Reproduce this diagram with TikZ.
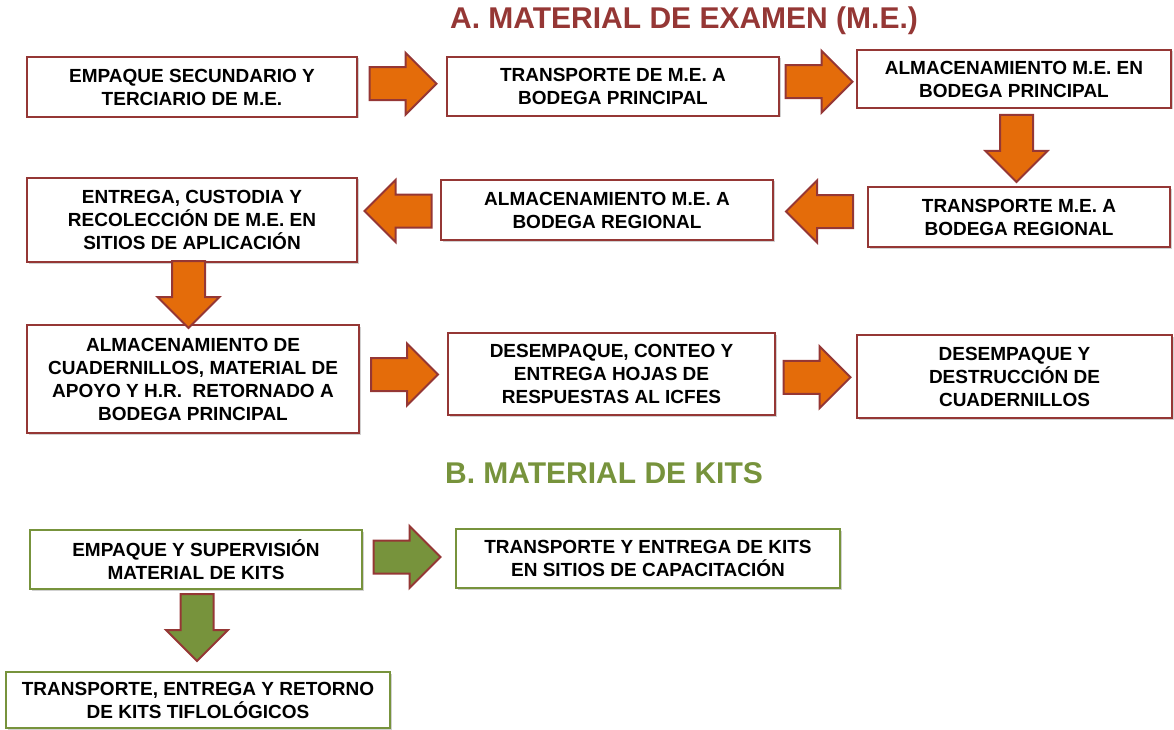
\documentclass[tikz,border=0pt]{standalone}
\usepackage{fontspec}
\setmainfont{Liberation Sans}
\usepackage{tikz}
\usetikzlibrary{shapes.arrows,calc,shadows}

\definecolor{mered}{RGB}{149,55,53}
\definecolor{meorange}{RGB}{228,108,10}
\definecolor{kitgreen}{RGB}{119,147,60}

\tikzset{
  mebox/.style={draw=mered, line width=2.5pt, fill=white, inner sep=0pt, align=center,
    font=\bfseries\fontsize{19}{23}\selectfont,
    drop shadow={shadow xshift=1.5pt, shadow yshift=-1.5pt, fill=black!30, opacity=0.6}},
  kitbox/.style={mebox, draw=kitgreen},
  blockarrow/.style={single arrow, draw=mered, line width=2pt, inner sep=15.5pt,
    minimum height=67pt, minimum width=60pt, single arrow head extend=14.5pt,
    single arrow head indent=0pt, anchor=tail},
  toright/.style={shape border rotate=0},
  toleft/.style={shape border rotate=180},
  todown/.style={shape border rotate=270},
  mearrow/.style={blockarrow, fill=meorange},
  kitarrow/.style={blockarrow, fill=kitgreen},
  heading/.style={font=\bfseries\fontsize{30}{34}\selectfont}
}

\begin{document}
\begin{tikzpicture}[x=1pt,y=1pt,yscale=-1,xscale=1]
\useasboundingbox (0,0) rectangle (1174,730);

% Text Node
\node[heading, text=mered] (titleA) at (684,21) {A. MATERIAL DE EXAMEN (M.E.)};

%Shape: Boxes, row 1
\node[mebox, minimum width=330pt, minimum height=60pt] (A1) at (192,87) {EMPAQUE SECUNDARIO Y\\TERCIARIO DE M.E.};
\node[mebox, minimum width=332pt, minimum height=59pt] (A2) at (613,86.5) {TRANSPORTE DE M.E. A\\BODEGA PRINCIPAL};
\node[mebox, minimum width=314pt, minimum height=58pt] (A3) at (1014,79) {ALMACENAMIENTO M.E. EN\\BODEGA PRINCIPAL};
%Shape: Boxes, row 2
\node[mebox, minimum width=302pt, minimum height=60pt] (A4) at (1019,217) {TRANSPORTE M.E. A\\BODEGA REGIONAL};
\node[mebox, minimum width=332pt, minimum height=60pt] (A5) at (607,210) {ALMACENAMIENTO M.E. A\\BODEGA REGIONAL};
\node[mebox, minimum width=330pt, minimum height=84pt] (A6) at (192,220) {ENTREGA, CUSTODIA Y\\RECOLECCIÓN DE M.E. EN\\SITIOS DE APLICACIÓN};
%Shape: Boxes, row 3
\node[mebox, minimum width=332pt, minimum height=108pt] (A7) at (193,379) {ALMACENAMIENTO DE\\CUADERNILLOS, MATERIAL DE\\APOYO Y H.R.\ \ RETORNADO A\\BODEGA PRINCIPAL};
\node[mebox, minimum width=327pt, minimum height=82pt] (A8) at (611.5,374) {DESEMPAQUE, CONTEO Y\\ENTREGA HOJAS DE\\RESPUESTAS AL ICFES};
\node[mebox, minimum width=315pt, minimum height=83pt] (A9) at (1014.5,376.5) {DESEMPAQUE Y\\DESTRUCCIÓN DE\\CUADERNILLOS};

%Shape: Block arrows (tail placed half a length before the gap's middle)
\node[mearrow, toright] (a12) at ($(A1.east)!0.5!(A2.west)+(-33.5,-3)$) {};
\node[mearrow, toright] (a23) at ($(A2.east)!0.5!(A3.west)+(-33.5,-1)$) {};
\node[mearrow, todown] (a34) at ($(A3.south)!0.5!(A4.north)+(0,-33.5)$) {};
\node[mearrow, toleft] (a45) at ($(A4.west)!0.5!(A5.east)+(33.5,-2)$) {};
\node[mearrow, toleft] (a56) at ($(A5.west)!0.5!(A6.east)+(33.5,-4)$) {};
\node[mearrow, todown] (a67) at ($(A6.south)!0.5!(A7.north)+(-4,-33.5)$) {};
\node[mearrow, toright] (a78) at ($(A7.east)!0.5!(A8.west)+(-33.5,-2)$) {};
\node[mearrow, toright] (a89) at ($(A8.east)!0.5!(A9.west)+(-33.5,2)$) {};

% Text Node
\node[heading, text=kitgreen] (titleB) at (604,473) {B. MATERIAL DE KITS};

%Shape: Kit boxes
\node[kitbox, minimum width=332pt, minimum height=59pt] (B1) at (196,559.5) {EMPAQUE Y SUPERVISIÓN\\MATERIAL DE KITS};
\node[kitbox, minimum width=384pt, minimum height=59pt] (B2) at (648,558.5) {TRANSPORTE Y ENTREGA DE KITS\\EN SITIOS DE CAPACITACIÓN};
\node[kitbox, minimum width=384pt, minimum height=56pt] (B3) at (198,700) {TRANSPORTE, ENTREGA Y RETORNO\\DE KITS TIFLOLÓGICOS};

%Shape: Kit block arrows
\node[kitarrow, toright] (b12) at ($(B1.east)!0.5!(B2.west)+(-36.5,-2)$) {};
\node[kitarrow, todown] (b13) at ($(B1.south)!0.5!(B3.north)+(0,-37.5)$) {};

\end{tikzpicture}
\end{document}
